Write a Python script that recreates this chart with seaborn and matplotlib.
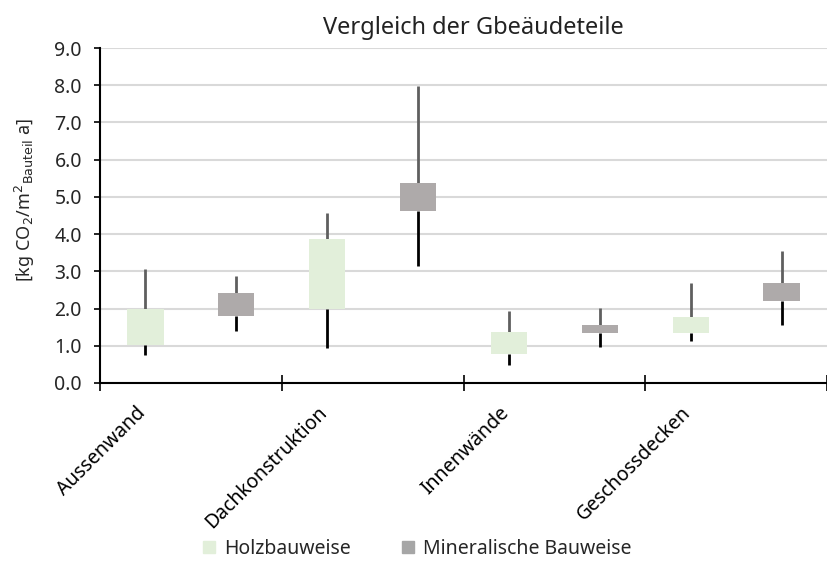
import numpy as np
import matplotlib
matplotlib.use("Agg")
import matplotlib.pyplot as plt
import matplotlib.transforms as mtrans
from matplotlib.lines import Line2D
import seaborn as sns

# values [kg CO2 / m2 Bauteil a]
bauteile = ["Aussenwand", "Dachkonstruktion", "Innenwände", "Geschossdecken"]
holz_min = [0.75, 0.93, 0.48, 1.12]
holz_low = [1.03, 2.00, 0.79, 1.35]
holz_high = [1.98, 3.86, 1.36, 1.77]
holz_max = [3.06, 4.58, 1.94, 2.68]
mineral_min = [1.39, 3.15, 0.96, 1.55]
mineral_low = [1.81, 4.63, 1.35, 2.19]
mineral_high = [2.42, 5.37, 1.56, 2.69]
mineral_max = [2.88, 7.97, 2.01, 3.54]

sns.set_theme(style="white")
plt.rcParams['font.family'] = ['Noto Sans', 'DejaVu Sans']

fig = plt.figure(figsize=(8.27, 5.63), dpi=100)
ax = fig.add_axes([100 / 827, 1 - 383 / 563, 727 / 827, 335 / 563])

holz_pos = np.arange(len(bauteile)) * 2.0
min_pos = holz_pos + 1.0

series = [
    (holz_pos, holz_min, holz_low, holz_high, holz_max, "#e2efda"),
    (min_pos, mineral_min, mineral_low, mineral_high, mineral_max, "#aeaaaa"),
]

for pos, lo, q1, q3, hi, col in series:
    q1 = np.array(q1)
    q3 = np.array(q3)
    # upper whisker grey, lower whisker black
    ax.vlines(pos, q3, hi, color="#5f5f5f", lw=2, zorder=2)
    ax.vlines(pos, lo, q1, color="black", lw=2, zorder=2)
    sns.barplot(x=pos, y=q3 - q1, bottom=q1, native_scale=True, width=0.2,
                color=col, saturation=1, errorbar=None, linewidth=0,
                ax=ax, zorder=3)

ax.set_xlim(-0.5, 7.5)
ax.set_ylim(0, 9)
ax.set_yticks(np.arange(0, 9.1, 1))
ax.set_yticklabels([f"{v:.1f}" for v in np.arange(0, 9.1, 1)], fontsize=14)
ax.yaxis.grid(True, color="#d9d9d9", lw=1.5)
ax.set_axisbelow(True)
ax.tick_params(axis="y", left=True, length=4, width=1.2, color="black", pad=9)

ax.set_xticks([-0.5, 1.5, 3.5, 5.5, 7.5])
ax.set_xticklabels([])
ax.tick_params(axis="x", bottom=True, direction="inout", length=12, width=1.2, color="black")
ax.set_xlabel("")

for s in ["top", "right"]:
    ax.spines[s].set_visible(False)
for s in ["left", "bottom"]:
    ax.spines[s].set_color("black")
    ax.spines[s].set_linewidth(1.5)

trans = mtrans.blended_transform_factory(ax.transData, ax.transAxes)
for p, name in zip(holz_pos, bauteile):
    ax.text(p + 0.05, -0.06, name, rotation=45, ha="right", va="top",
            transform=trans, fontsize=14, color="black")

ax.set_ylabel(r"[kg CO$_2$/m$^2$$_{\mathrm{Bauteil}}$ a]", fontsize=13)
ax.yaxis.set_label_coords(-0.087, 0.546)
ax.set_title("Vergleich der Gbeäudeteile", fontsize=17, pad=10, color="#222222", x=0.513)

handles = [
    Line2D([], [], marker="s", ls="", markersize=9, color="#e2efda", label="Holzbauweise"),
    Line2D([], [], marker="s", ls="", markersize=9, color="#a6a6a6", label="Mineralische Bauweise"),
]
fig.legend(handles=handles, loc="center", bbox_to_anchor=(416 / 827, 1 - 549 / 563),
           ncol=2, frameon=False, fontsize=14, handlelength=0.9, handletextpad=0.3,
           columnspacing=2.5)

fig.savefig("out.png", dpi=100)
